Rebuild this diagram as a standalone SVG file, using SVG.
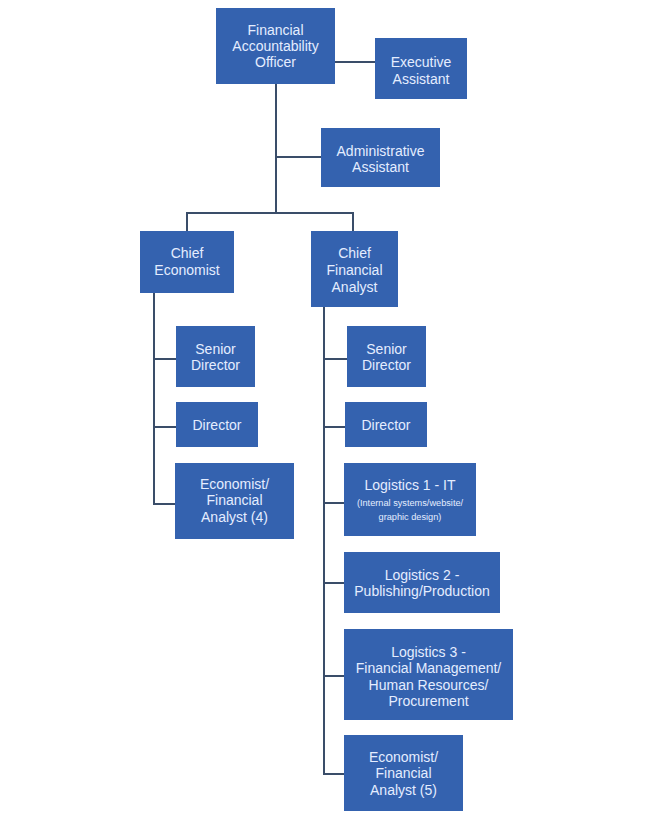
<svg xmlns="http://www.w3.org/2000/svg" width="661" height="818" viewBox="0 0 661 818">
<style>
.box{fill:#3462AF;}
.t{font-family:"Liberation Sans",Arial,sans-serif;font-size:14px;fill:#E4EDFF;text-anchor:middle;}
.s{font-size:9.2px;}
.c{fill:none;stroke:#3A4D69;stroke-width:2;}
</style>
<rect width="661" height="818" fill="#FFFFFF"/>
<g id="connectors">
<path class="c" d="M335,62H375"/>
<path class="c" d="M276,84V213"/>
<path class="c" d="M276,157H321"/>
<path class="c" d="M187,231V213H353V231"/>
<path class="c" d="M154,293V504H175"/>
<path class="c" d="M154,359H176M154,427H176"/>
<path class="c" d="M324,307V774H344"/>
<path class="c" d="M324,359H347M324,427H345M324,503H344M324,583H344M324,676H344"/>
</g>
<g id="fao"><rect class="box" x="216" y="8" width="119" height="76"/>
<text class="t" x="275.5" y="35">Financial</text><text class="t" x="275.5" y="51">Accountability</text><text class="t" x="275.5" y="67">Officer</text></g>
<g id="exec-assistant"><rect class="box" x="375" y="38" width="92" height="61"/>
<text class="t" x="421" y="67">Executive</text><text class="t" x="421" y="84">Assistant</text></g>
<g id="admin-assistant"><rect class="box" x="321" y="128" width="119" height="59"/>
<text class="t" x="380.5" y="156">Administrative</text><text class="t" x="380.5" y="172">Assistant</text></g>
<g id="chief-economist"><rect class="box" x="140" y="231" width="94" height="62"/>
<text class="t" x="187" y="258">Chief</text><text class="t" x="187" y="275">Economist</text></g>
<g id="chief-financial-analyst"><rect class="box" x="311" y="231" width="87" height="76"/>
<text class="t" x="354.5" y="258">Chief</text><text class="t" x="354.5" y="275">Financial</text><text class="t" x="354.5" y="292">Analyst</text></g>
<g id="ce-senior-director"><rect class="box" x="176" y="326" width="79" height="61"/>
<text class="t" x="215.5" y="354">Senior</text><text class="t" x="215.5" y="370">Director</text></g>
<g id="ce-director"><rect class="box" x="176" y="402" width="82" height="45"/>
<text class="t" x="217" y="430">Director</text></g>
<g id="ce-economist"><rect class="box" x="175" y="463" width="119" height="76"/>
<text class="t" x="234.5" y="489">Economist/</text><text class="t" x="234.5" y="505">Financial</text><text class="t" x="234.5" y="522">Analyst (4)</text></g>
<g id="cfa-senior-director"><rect class="box" x="347" y="326" width="79" height="61"/>
<text class="t" x="386.5" y="354">Senior</text><text class="t" x="386.5" y="370">Director</text></g>
<g id="cfa-director"><rect class="box" x="345" y="402" width="82" height="45"/>
<text class="t" x="386" y="430">Director</text></g>
<g id="logistics-1"><rect class="box" x="344" y="463" width="132" height="73"/>
<text class="t" x="410" y="490">Logistics 1 - IT</text><text class="t s" x="410" y="506">(Internal systems/website/</text><text class="t s" x="410" y="520">graphic design)</text></g>
<g id="logistics-2"><rect class="box" x="344" y="552" width="156" height="61"/>
<text class="t" x="422" y="580">Logistics 2 -</text><text class="t" x="422" y="596">Publishing/Production</text></g>
<g id="logistics-3"><rect class="box" x="344" y="629" width="169" height="91"/>
<text class="t" x="428.5" y="657">Logistics 3 -</text><text class="t" x="428.5" y="673">Financial Management/</text><text class="t" x="428.5" y="690">Human Resources/</text><text class="t" x="428.5" y="706">Procurement</text></g>
<g id="cfa-economist"><rect class="box" x="344" y="735" width="119" height="76"/>
<text class="t" x="403.5" y="762">Economist/</text><text class="t" x="403.5" y="778">Financial</text><text class="t" x="403.5" y="795">Analyst (5)</text></g>
</svg>
